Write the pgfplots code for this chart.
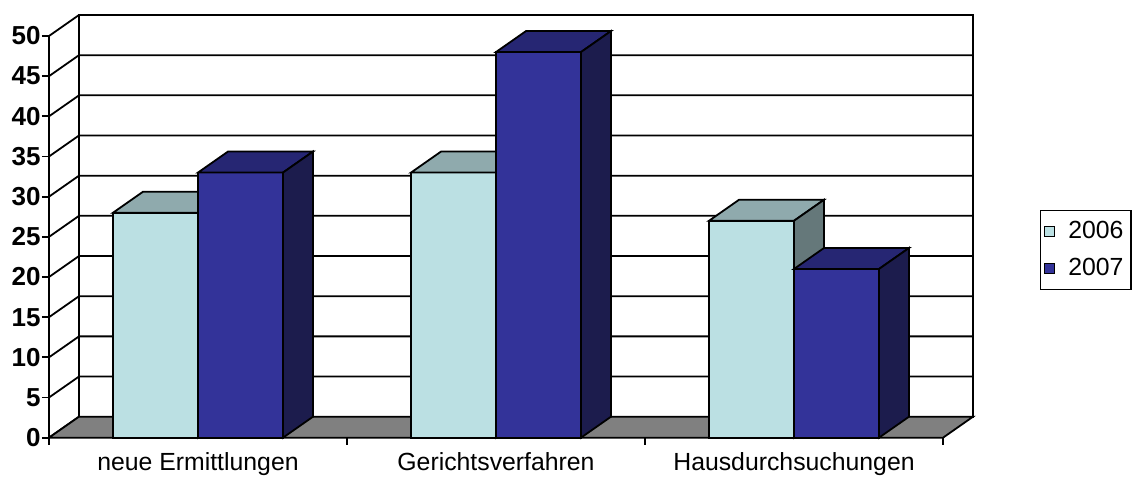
\documentclass[border=0pt]{standalone}
\usepackage{fontspec}
\setmainfont{Liberation Sans}
\usepackage{pgfplots}
\pgfplotsset{compat=1.18}
\definecolor{cAf}{RGB}{187,224,227}
\definecolor{cAt}{RGB}{143,170,173}
\definecolor{cAs}{RGB}{101,120,122}
\definecolor{cBf}{RGB}{51,51,153}
\definecolor{cBt}{RGB}{38,38,115}
\definecolor{cBs}{RGB}{28,28,77}
\definecolor{cFloor}{RGB}{128,128,128}
\begin{document}
\begin{tikzpicture}
\begin{axis}[
  x=149pt, y=4.017pt,
  xmin=0, xmax=3.1007, ymin=0, ymax=52.614,
  enlargelimits=false, clip=false,
  axis x line*=bottom, axis y line*=left,
  axis line style={draw=none,-},
  tick align=outside,
  major tick length=3.5pt,
  tick style={black, line width=0.9pt},
  ytick={0,5,10,15,20,25,30,35,40,45,50},
  xtick={0,1,2,3}, xticklabels={},
  extra x ticks={0.5,1.5,2.5},
  extra x tick labels={neue Ermittlungen,Gerichtsverfahren,Hausdurchsuchungen},
  extra x tick style={major tick length=0pt, tick style={draw=none},
    ticklabel style={font=\fontsize{12.4}{14}\selectfont, yshift=-4pt}},
  /pgf/number format/assume math mode=true,
  yticklabel style={font=\fontsize{13}{14}\selectfont\bfseries, inner sep=0.5pt},
  no markers,
  legend style={at={(1.0725,0.5386)}, anchor=north west, draw=black, line width=0.6pt,
    font=\fontsize{12.4}{14}\selectfont, inner xsep=1.8pt, inner ysep=3.5pt, row sep=4pt},
  legend cell align=left,
  legend image code/.code={\draw[#1, line width=0.5pt] (0pt,-2.5pt) rectangle (5pt,2.5pt); \path (9.5pt,0pt);},
]
% back wall
\addplot[fill=white, draw=black, line width=0.9pt, forget plot] coordinates {(0.1007,2.614) (3.1007,2.614) (3.1007,52.614) (0.1007,52.614)} -- cycle;
% gridlines incl. left wall diagonals
\addplot[black, line width=0.9pt, unbounded coords=jump, forget plot] coordinates {
 (0,0) (0.1007,2.614) (nan,nan)
 (0,5) (0.1007,7.614) (3.1007,7.614) (nan,nan)
 (0,10) (0.1007,12.614) (3.1007,12.614) (nan,nan)
 (0,15) (0.1007,17.614) (3.1007,17.614) (nan,nan)
 (0,20) (0.1007,22.614) (3.1007,22.614) (nan,nan)
 (0,25) (0.1007,27.614) (3.1007,27.614) (nan,nan)
 (0,30) (0.1007,32.614) (3.1007,32.614) (nan,nan)
 (0,35) (0.1007,37.614) (3.1007,37.614) (nan,nan)
 (0,40) (0.1007,42.614) (3.1007,42.614) (nan,nan)
 (0,45) (0.1007,47.614) (3.1007,47.614) (nan,nan)
 (0,50) (0.1007,52.614) (3.1007,52.614) };
% front left edge
\addplot[black, line width=0.9pt, forget plot] coordinates {(0,0) (0,50)};
% floor
\addplot[fill=cFloor, draw=black, line width=0.9pt, forget plot] coordinates {(0,0) (3,0) (3.1007,2.614) (0.1007,2.614)} -- cycle;
% group 1: neue Ermittlungen
\addplot[fill=cAf, draw=black, line width=0.9pt, forget plot] coordinates {(0.2148,0) (0.5,0) (0.5,28) (0.2148,28)} -- cycle;
\addplot[fill=cAt, draw=black, line width=0.9pt, forget plot] coordinates {(0.2148,28) (0.5,28) (0.6007,30.614) (0.3155,30.614)} -- cycle;
\addplot[fill=cAs, draw=black, line width=0.9pt, forget plot] coordinates {(0.5,0) (0.6007,2.614) (0.6007,30.614) (0.5,28)} -- cycle;
\addplot[fill=cBf, draw=black, line width=0.9pt, forget plot] coordinates {(0.5,0) (0.7852,0) (0.7852,33) (0.5,33)} -- cycle;
\addplot[fill=cBt, draw=black, line width=0.9pt, forget plot] coordinates {(0.5,33) (0.7852,33) (0.8859,35.614) (0.6007,35.614)} -- cycle;
\addplot[fill=cBs, draw=black, line width=0.9pt, forget plot] coordinates {(0.7852,0) (0.8859,2.614) (0.8859,35.614) (0.7852,33)} -- cycle;
% group 2: Gerichtsverfahren
\addplot[fill=cAf, draw=black, line width=0.9pt, forget plot] coordinates {(1.2148,0) (1.5,0) (1.5,33) (1.2148,33)} -- cycle;
\addplot[fill=cAt, draw=black, line width=0.9pt, forget plot] coordinates {(1.2148,33) (1.5,33) (1.6007,35.614) (1.3155,35.614)} -- cycle;
\addplot[fill=cAs, draw=black, line width=0.9pt, forget plot] coordinates {(1.5,0) (1.6007,2.614) (1.6007,35.614) (1.5,33)} -- cycle;
\addplot[fill=cBf, draw=black, line width=0.9pt, forget plot] coordinates {(1.5,0) (1.7852,0) (1.7852,48) (1.5,48)} -- cycle;
\addplot[fill=cBt, draw=black, line width=0.9pt, forget plot] coordinates {(1.5,48) (1.7852,48) (1.8859,50.614) (1.6007,50.614)} -- cycle;
\addplot[fill=cBs, draw=black, line width=0.9pt, forget plot] coordinates {(1.7852,0) (1.8859,2.614) (1.8859,50.614) (1.7852,48)} -- cycle;
% group 3: Hausdurchsuchungen
\addplot[fill=cAf, draw=black, line width=0.9pt, forget plot] coordinates {(2.2148,0) (2.5,0) (2.5,27) (2.2148,27)} -- cycle;
\addplot[fill=cAt, draw=black, line width=0.9pt, forget plot] coordinates {(2.2148,27) (2.5,27) (2.6007,29.614) (2.3155,29.614)} -- cycle;
\addplot[fill=cAs, draw=black, line width=0.9pt, forget plot] coordinates {(2.5,0) (2.6007,2.614) (2.6007,29.614) (2.5,27)} -- cycle;
\addplot[fill=cBf, draw=black, line width=0.9pt, forget plot] coordinates {(2.5,0) (2.7852,0) (2.7852,21) (2.5,21)} -- cycle;
\addplot[fill=cBt, draw=black, line width=0.9pt, forget plot] coordinates {(2.5,21) (2.7852,21) (2.8859,23.614) (2.6007,23.614)} -- cycle;
\addplot[fill=cBs, draw=black, line width=0.9pt, forget plot] coordinates {(2.7852,0) (2.8859,2.614) (2.8859,23.614) (2.7852,21)} -- cycle;
% legend
\addlegendimage{fill=cAf, draw=black}
\addlegendentry{2006}
\addlegendimage{fill=cBf, draw=black}
\addlegendentry{2007}
% bounding box of the whole picture
\path (axis cs:-0.1644,-4.643) rectangle (axis cs:3.6376,54.48);
\end{axis}
\end{tikzpicture}
\end{document}
